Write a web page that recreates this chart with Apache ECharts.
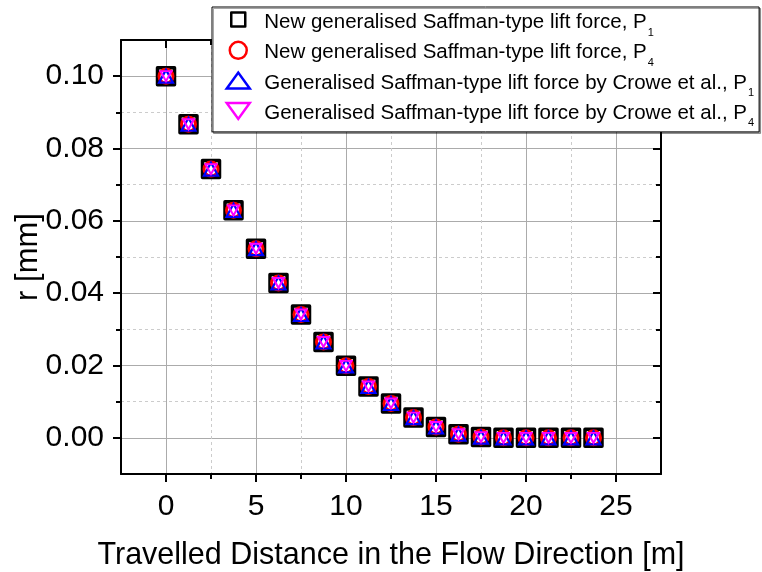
<!DOCTYPE html>
<html>
<head>
<meta charset="utf-8">
<script src="https://cdn.jsdelivr.net/npm/echarts@6/dist/echarts.min.js"></script>
<style>
  html, body { margin: 0; padding: 0; background: #fff; }
  #chart { width: 762px; height: 572px; }
</style>
</head>
<body>
<div id="chart"></div>
<script>
// Travelled distance along the flow [m]
const distance = [0, 1.25, 2.5, 3.75, 5, 6.25, 7.5, 8.75, 10, 11.25,
                  12.5, 13.75, 15, 16.25, 17.5, 18.75, 20, 21.25, 22.5, 23.75];

// Particle radial position r [mm] for each model / particle
const newLiftP1 = [0.1000, 0.0867, 0.0743, 0.0629, 0.0523, 0.0428, 0.0341, 0.0265, 0.0199, 0.0142,
                   0.0095, 0.0056, 0.0030, 0.0010, 0.0002, 0.0000, 0.0000, 0.0000, 0.0000, 0.0000];
const newLiftP4 = [0.1000, 0.0867, 0.0743, 0.0629, 0.0523, 0.0428, 0.0341, 0.0265, 0.0199, 0.0142,
                   0.0095, 0.0056, 0.0030, 0.0010, 0.0002, 0.0000, 0.0000, 0.0000, 0.0000, 0.0000];
const croweP1   = [0.1000, 0.0867, 0.0743, 0.0629, 0.0523, 0.0428, 0.0341, 0.0265, 0.0199, 0.0142,
                   0.0095, 0.0056, 0.0030, 0.0010, 0.0002, 0.0000, 0.0000, 0.0000, 0.0000, 0.0000];
const croweP4   = [0.1000, 0.0867, 0.0743, 0.0629, 0.0523, 0.0428, 0.0341, 0.0265, 0.0199, 0.0142,
                   0.0095, 0.0056, 0.0030, 0.0010, 0.0002, 0.0000, 0.0000, 0.0000, 0.0000, 0.0000];

const seriesLabels = [
  'New generalised Saffman-type lift force, P',
  'New generalised Saffman-type lift force, P',
  'Generalised Saffman-type lift force by Crowe et al., P',
  'Generalised Saffman-type lift force by Crowe et al., P'
];
const seriesSubs = ['1', '4', '1', '4'];

const xMajorTicks = [0, 5, 10, 15, 20, 25];
const xMinorTicks = [2.5, 7.5, 12.5, 17.5, 22.5];
const yMajorTicks = [0, 0.02, 0.04, 0.06, 0.08, 0.10];
const yMinorTicks = [0.01, 0.03, 0.05, 0.07, 0.09];

const FONT = 'Liberation Sans, Arial, Helvetica, sans-serif';
const X_MIN = -2.5, X_MAX = 27.5;
const Y_MIN = -0.01, Y_MAX = 0.11;

const seriesNames = seriesLabels.map((l, i) => l + seriesSubs[i]);

function pairs(ys) { return distance.map((x, i) => [x, ys[i]]); }

const tickStyle = { color: '#000', width: 2 };

// axis helper: one axis per tick family (major / minor) and side
function axis(kind, position, ticks, len, inside, opts) {
  const isX = kind === 'x';
  return Object.assign({
    type: 'value',
    position: position,
    min: isX ? X_MIN : Y_MIN,
    max: isX ? X_MAX : Y_MAX,
    axisLine: { show: false, onZero: false },
    axisTick: { show: true, customValues: ticks, length: len, inside: inside, lineStyle: tickStyle },
    axisLabel: { show: false, customValues: ticks },
    splitLine: { show: false },
    minorTick: { show: false },
    minorSplitLine: { show: false }
  }, opts);
}

const frameLine = { show: true, onZero: false, lineStyle: { color: '#000', width: 2 } };
const majorGrid = { show: true, lineStyle: { color: '#ababab', width: 1, type: 'solid' } };
const minorGrid = { show: true, lineStyle: { color: '#cccccc', width: 1, type: [3, 3] } };

const xAxes = [
  axis('x', 'bottom', xMajorTicks, 8, false, {
    axisLine: frameLine,
    axisLabel: { show: true, customValues: xMajorTicks, fontSize: 30, color: '#000',
                 fontFamily: FONT, margin: 18, formatter: v => String(v) },
    splitLine: majorGrid,
    name: 'Travelled Distance in the Flow Direction [m]',
    nameLocation: 'middle',
    nameGap: 66,
    nameMoveOverlap: false,
    nameTextStyle: { fontSize: 30.5, color: '#000', fontFamily: FONT }
  }),
  axis('x', 'bottom', xMinorTicks, 5, false, { splitLine: minorGrid }),
  axis('x', 'top', xMajorTicks, 8, true, { axisLine: frameLine }),
  axis('x', 'top', xMinorTicks, 5, true, {})
];

const yAxes = [
  axis('y', 'left', yMajorTicks, 8, false, {
    axisLine: frameLine,
    axisLabel: { show: true, customValues: yMajorTicks, fontSize: 30, color: '#000',
                 fontFamily: FONT, margin: 17, formatter: v => v.toFixed(2) },
    splitLine: majorGrid,
    name: 'r [mm]',
    nameLocation: 'middle',
    nameGap: 77,
    nameMoveOverlap: false,
    nameTextStyle: { fontSize: 31, color: '#000', fontFamily: FONT }
  }),
  axis('y', 'left', yMinorTicks, 5, false, { splitLine: minorGrid }),
  axis('y', 'right', yMajorTicks, 8, true, { axisLine: frameLine }),
  axis('y', 'right', yMinorTicks, 5, true, {})
];

// legend icons, each laid out in a 30x17 box
const legendIcons = [
  'path://M0,0M30,17M8,1L22,1L22,15L8,15Z',
  'circle',
  'path://M0,0M30,17M3.5,16.5L15,0.5L26.5,16.5Z',
  'path://M0,0M30,17M3.5,0.5L26.5,0.5L15,16.5Z'
];
const legendColors = ['#000000', '#ff0000', '#0000ff', '#ff00ff'];

const chart = echarts.init(document.getElementById('chart'), null, { renderer: 'canvas' });

chart.setOption({
  animation: false,
  backgroundColor: '#fff',
  grid: { left: 121, top: 40, width: 540, height: 434, containLabel: false, outerBoundsMode: 'none' },
  xAxis: xAxes,
  yAxis: yAxes,
  legend: {
    orient: 'vertical',
    left: 212,
    top: 7,
    padding: [3, 5, 3, 10],
    itemWidth: 30,
    itemHeight: 17,
    itemGap: 2.3,
    backgroundColor: '#fff',
    borderColor: '#000',
    borderWidth: 1,
    shadowColor: 'rgba(0,0,0,0.35)',
    shadowOffsetX: 1.5,
    shadowOffsetY: 1.5,
    shadowBlur: 0,
    selectedMode: false,
    data: seriesNames.map((n, i) => ({
      name: n,
      icon: legendIcons[i],
      itemStyle: { color: 'rgba(255,255,255,0)', borderColor: legendColors[i], borderWidth: 2.5 }
    })),
    formatter: name => {
      const i = seriesNames.indexOf(name);
      return '{a|' + seriesLabels[i] + '}{s|' + seriesSubs[i] + '}';
    },
    textStyle: {
      color: '#000',
      fontFamily: FONT,
      rich: {
        a: { fontSize: 20.5, lineHeight: 20, padding: [2, 0, 0, 6], verticalAlign: 'top',
             color: '#000', fontFamily: FONT },
        s: { fontSize: 11, lineHeight: 9, padding: [17, 0, 0, 1], verticalAlign: 'top',
             color: '#000', fontFamily: FONT }
      }
    }
  },
  series: [
    {
      name: seriesNames[0], type: 'scatter', xAxisIndex: 0, yAxisIndex: 0,
      data: pairs(newLiftP1), symbol: 'rect', symbolSize: 17, z: 2,
      itemStyle: { color: '#fff', borderColor: '#000', borderWidth: 3.5, borderJoin: 'round', opacity: 1 }
    },
    {
      name: seriesNames[1], type: 'scatter', xAxisIndex: 0, yAxisIndex: 0,
      data: pairs(newLiftP4), symbol: 'circle', symbolSize: 14, z: 3,
      itemStyle: { color: 'rgba(255,255,255,0)', borderColor: '#ff0000', borderWidth: 3, opacity: 1 }
    },
    {
      name: seriesNames[2], type: 'scatter', xAxisIndex: 0, yAxisIndex: 0,
      data: pairs(croweP1), symbol: 'triangle', symbolSize: [14, 13], z: 4,
      itemStyle: { color: 'rgba(255,255,255,0)', borderColor: '#0000ff', borderWidth: 2.2, opacity: 1 }
    },
    {
      name: seriesNames[3], type: 'scatter', xAxisIndex: 0, yAxisIndex: 0,
      data: pairs(croweP4), symbol: 'path://M0,0L10,0L5,9Z', symbolSize: [11, 10], z: 5,
      itemStyle: { color: 'rgba(255,255,255,0)', borderColor: '#ff00ff', borderWidth: 2, opacity: 1 }
    }
  ]
});
</script>
</body>
</html>
